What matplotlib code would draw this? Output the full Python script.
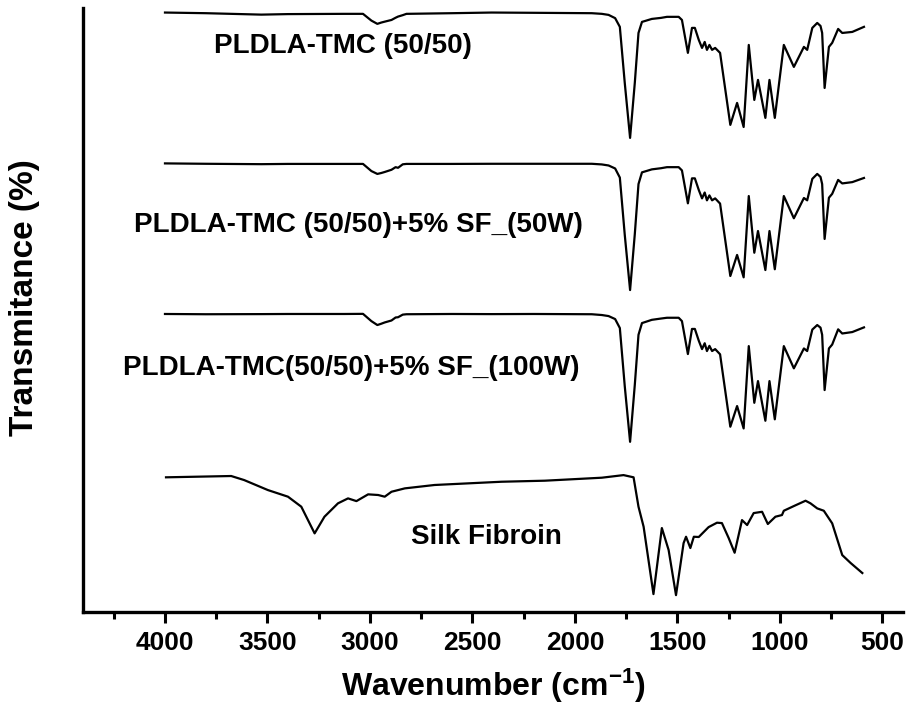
import matplotlib
matplotlib.use("Agg")
import matplotlib.pyplot as plt
from matplotlib.ticker import MultipleLocator

plt.rcParams['font.family'] = ['Liberation Sans', 'DejaVu Sans']
plt.rcParams['font.weight'] = 'bold'
plt.rcParams['mathtext.fontset'] = 'custom'
plt.rcParams['mathtext.rm'] = 'Liberation Sans:bold'
plt.rcParams['mathtext.it'] = 'Liberation Sans:bold'
plt.rcParams['mathtext.bf'] = 'Liberation Sans:bold'

# FTIR spectra: wavenumber (cm-1) and transmittance (%)
wn_pldla = [4000, 3800, 3530, 3400, 3125, 3034, 2993, 2964, 2945, 2928,
            2895, 2875, 2863, 2840, 2822, 2600, 2407, 2200, 1918, 1869,
            1836, 1804, 1781, 1757, 1731, 1708, 1690, 1673, 1625, 1580,
            1551, 1494, 1478, 1449, 1429, 1415, 1396, 1380, 1367, 1356,
            1344, 1331, 1316, 1292, 1242, 1209, 1177, 1152, 1125, 1107,
            1071, 1051, 1025, 981, 932, 883, 867, 842, 818, 802,
            794, 782, 761, 745, 716, 696, 647, 590]

t_pldla = [99.5, 99.0, 97.9, 98.3, 98.5, 98.5, 93.3, 90.8, 91.8, 92.5,
           93.8, 95.5, 96.4, 97.5, 98.5, 99.0, 99.5, 99.3, 99.0, 98.5,
           97.7, 95.2, 88.5, 45.4, 3.1, 45.4, 83.8, 92.3, 94.6, 95.4,
           96.2, 96.2, 93.8, 68.5, 87.7, 87.7, 78.5, 72.3, 76.9, 70.8,
           74.6, 70.8, 72.3, 68.5, 13.1, 30.0, 11.5, 74.6, 32.3, 47.7,
           18.5, 47.7, 18.5, 74.6, 57.7, 73.1, 70.8, 87.7, 91.5, 89.2,
           83.8, 41.5, 73.1, 76.2, 86.9, 83.8, 84.6, 88.5]

t_sf50 = [98.9, 98.6, 98.3, 98.5, 98.5, 98.5, 93.0, 90.8, 91.5, 92.3,
          94.0, 96.0, 95.5, 98.2, 98.5, 98.5, 98.6, 98.6, 98.6, 98.1,
          97.3, 95.0, 88.0, 44.0, 1.5, 44.5, 83.0, 92.0, 94.3, 95.2,
          96.0, 96.0, 93.5, 68.2, 87.4, 87.4, 78.5, 72.0, 76.5, 70.5,
          74.3, 70.5, 72.0, 68.0, 12.3, 28.5, 11.3, 73.8, 30.2, 46.9,
          16.9, 46.9, 17.5, 73.8, 56.7, 72.3, 70.5, 87.0, 90.8, 88.5,
          83.0, 40.8, 72.5, 75.5, 86.2, 83.5, 84.5, 87.7]

t_sf100 = [98.5, 98.3, 98.4, 98.5, 98.5, 98.6, 93.0, 90.0, 91.0, 92.0,
           93.5, 95.8, 96.0, 98.0, 98.3, 98.5, 98.4, 98.5, 98.3, 97.7,
           96.9, 94.6, 87.7, 43.0, 0.2, 44.0, 82.5, 91.5, 94.0, 95.0,
           95.6, 95.6, 93.0, 67.7, 87.0, 87.0, 78.0, 71.5, 76.0, 70.0,
           74.0, 70.0, 71.5, 67.5, 11.8, 27.7, 10.5, 73.8, 30.2, 46.9,
           16.4, 46.9, 17.5, 73.8, 56.7, 72.0, 70.0, 86.5, 90.0, 88.0,
           82.5, 40.0, 72.0, 75.0, 86.7, 83.5, 84.6, 88.2]

wn_silk = [3995, 3677, 3614, 3498, 3400, 3335, 3270, 3222, 3156, 3107,
           3066, 3009, 2960, 2928, 2895, 2830, 2685, 2358, 2147, 1869,
           1763, 1714, 1690, 1665, 1617, 1576, 1543, 1507, 1470, 1458,
           1437, 1420, 1396, 1348, 1307, 1283, 1250, 1221, 1185, 1160,
           1128, 1087, 1059, 1022, 990, 981, 932, 875, 851, 818,
           786, 745, 696, 655, 598]

t_silk = [102.1, 103.1, 100.0, 92.3, 87.2, 79.5, 59.0, 71.8, 82.1, 85.9,
          83.8, 89.0, 88.5, 87.2, 91.0, 93.6, 96.2, 98.7, 99.5, 101.8,
          103.8, 102.1, 79.5, 64.1, 12.3, 63.1, 46.2, 11.5, 51.5, 56.4,
          47.7, 56.4, 56.2, 63.8, 67.2, 66.9, 55.4, 44.1, 69.2, 65.4,
          74.6, 75.6, 66.2, 71.8, 73.1, 76.4, 80.0, 84.1, 82.1, 78.2,
          76.4, 66.7, 42.3, 36.2, 28.5]

names = ['PLDLA-TMC (50/50)', 'PLDLA-TMC (50/50)+5% SF_(50W)',
         'PLDLA-TMC(50/50)+5% SF_(100W)', 'Silk Fibroin']
offsets = [0.0, 115.4, 230.8, 360.0]

spectra = [(wn_pldla, t_pldla), (wn_pldla, t_sf50),
           (wn_pldla, t_sf100), (wn_silk, t_silk)]

fig = plt.figure(figsize=(9.08, 7.15), dpi=100)
ax = fig.add_axes([0.0914, 0.144, 0.903, 0.845])

for (wn, t), off in zip(spectra, offsets):
    ax.plot(wn, [v - off for v in t], color='black', lw=1.6,
            solid_joinstyle='round')

# curve labels (wavenumber of left edge, height)
label_pos = [(3760, 73.8), (4152, -63.8), (4205, -173.8), (2798, -303.8)]
for name, (xw, yv) in zip(names, label_pos):
    ax.text(xw, yv, name, fontsize=20, fontweight='bold',
            ha='left', va='center')

ax.set_xlim(4400, 400)
ax.set_ylim(-361.5, 103.1)

ax.xaxis.set_major_locator(MultipleLocator(500))
ax.xaxis.set_minor_locator(MultipleLocator(250))
ax.set_yticks([])

for side in ('top', 'right'):
    ax.spines[side].set_visible(False)
for side in ('left', 'bottom'):
    ax.spines[side].set_linewidth(2.4)

ax.tick_params(axis='x', which='major', direction='out', length=8,
               width=2.2, labelsize=19, pad=6)
ax.tick_params(axis='x', which='minor', direction='out', length=5,
               width=2.2)
for lab in ax.get_xticklabels():
    lab.set_fontweight('bold')

ax.set_xlabel('Wavenumber (cm$^{-1}$)', fontsize=23, fontweight='bold',
              labelpad=8)
ax.set_ylabel('Transmitance (%)', fontsize=24, fontweight='bold')
ax.yaxis.set_label_coords(-0.052, 0.52)

fig.savefig('out.png', dpi=100)
